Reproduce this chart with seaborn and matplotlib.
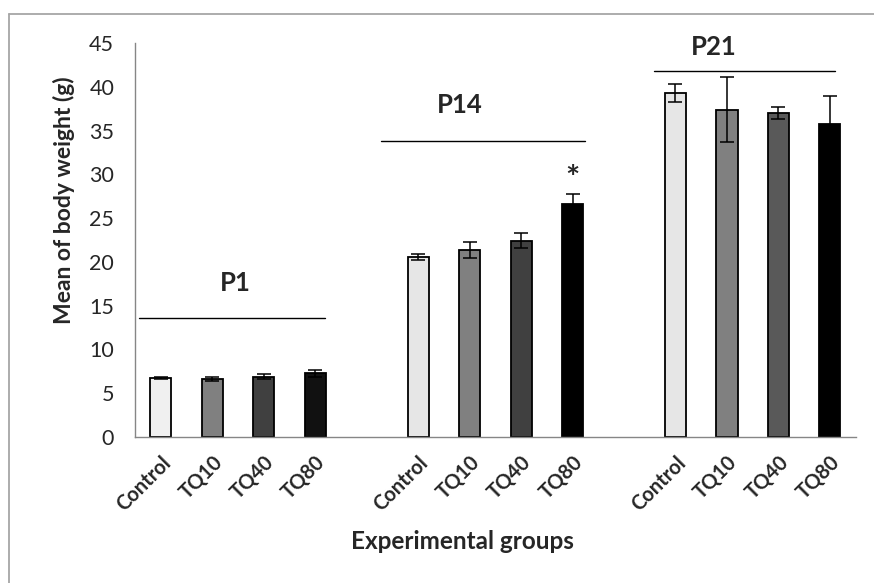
import numpy as np
import pandas as pd
import matplotlib
matplotlib.use('Agg')
import matplotlib.pyplot as plt
import seaborn as sns
from matplotlib.lines import Line2D

# values
days = ['P1', 'P14', 'P21']
groups = ['Control', 'TQ10', 'TQ40', 'TQ80']
means = {'P1': [6.7, 6.6, 6.9, 7.3],
         'P14': [20.6, 21.4, 22.4, 26.6],
         'P21': [39.3, 37.4, 37.0, 35.8]}
errs = {'P1': [0.1, 0.2, 0.3, 0.4],
        'P14': [0.35, 0.9, 0.85, 1.2],
        'P21': [1.0, 3.7, 0.7, 3.1]}
colors = {'P1': ['#f0f0f0', '#808080', '#404040', '#111111'],
          'P14': ['#e6e6e6', '#808080', '#404040', '#000000'],
          'P21': ['#e6e6e6', '#808080', '#595959', '#000000']}

rows = []
order = []
for i, d in enumerate(days):
    for g, m, e in zip(groups, means[d], errs[d]):
        rows.append({'slot': d + ' ' + g, 'group': g, 'mean': m, 'err': e})
        order.append(d + ' ' + g)
    if i < len(days) - 1:
        order.append('gap' + str(i))
df = pd.DataFrame(rows)
pal = {d + ' ' + g: c for d in days for g, c in zip(groups, colors[d])}

sns.set_style('white')
plt.rcParams['font.family'] = ['Lato', 'DejaVu Sans']

fig = plt.figure(figsize=(8.74, 5.83), dpi=100)
ax = fig.add_axes([0.1545, 0.2504, 0.8245, 0.6758])

sns.barplot(data=df, x='slot', y='mean', hue='slot', order=order, palette=pal,
            width=0.41, edgecolor='black', linewidth=1.3, legend=False, ax=ax)

xpos = [order.index(s) for s in df['slot']]
ax.errorbar(xpos, df['mean'], yerr=df['err'], fmt='none', ecolor='black',
            elinewidth=1.1, capsize=5, capthick=1.1, zorder=5)

ax.set_ylim(0, 45)
ax.set_xlim(-0.5, len(order) - 0.5)
ax.set_yticks(range(0, 50, 5))
ax.tick_params(axis='y', labelsize=15.5, length=5, pad=10, color='#868686', direction='out')

# Excel-style: ticks between categories, labels under the bars
ax.set_xticks(np.arange(-0.5, len(order), 1.0))
ax.set_xticklabels([])
ax.tick_params(axis='x', which='major', length=6, color='#868686', direction='out')
ax.set_xticks(xpos, minor=True)
ax.set_xticklabels(df['group'], minor=True, rotation=45, ha='right',
                   rotation_mode='anchor', fontsize=14.5, fontweight='bold')
ax.tick_params(axis='x', which='minor', length=0, pad=11)

for s in ['top', 'right']:
    ax.spines[s].set_visible(False)
for s in ['left', 'bottom']:
    ax.spines[s].set_color('#868686')
    ax.spines[s].set_linewidth(1.0)

ax.set_ylabel('Mean of body weight (g)', fontsize=16.5, fontweight='bold')
ax.yaxis.set_label_coords(-0.083, 0.6)
ax.set_xlabel('Experimental groups', fontsize=17.5, fontweight='bold')
ax.xaxis.set_label_coords(0.455, -0.235)

# day brackets and labels
brackets = [(-0.42, 3.2, 13.65, 1.44, 17.6),
            (4.27, 8.24, 33.8, 5.8, 37.9),
            (9.59, 13.1, 41.86, 10.74, 44.6)]
for d, (x0, x1, y, tx, ty) in zip(days, brackets):
    ax.plot([x0, x1], [y, y], color='black', lw=1.0, clip_on=False)
    ax.text(tx, ty, d, ha='center', va='center', fontsize=18.5, fontweight='bold')

ax.text(order.index('P14 TQ80'), 29.4, '*', ha='center', va='center',
        fontsize=24, fontweight='bold')

# chart frame (only top and left edges are in view)
fig.add_artist(Line2D([9 / 874, 1], [1 - 14 / 583] * 2, color='#a6a6a6', lw=1.3))
fig.add_artist(Line2D([9 / 874] * 2, [0, 1 - 14 / 583], color='#a6a6a6', lw=1.3))

fig.savefig('out.png', dpi=100)
